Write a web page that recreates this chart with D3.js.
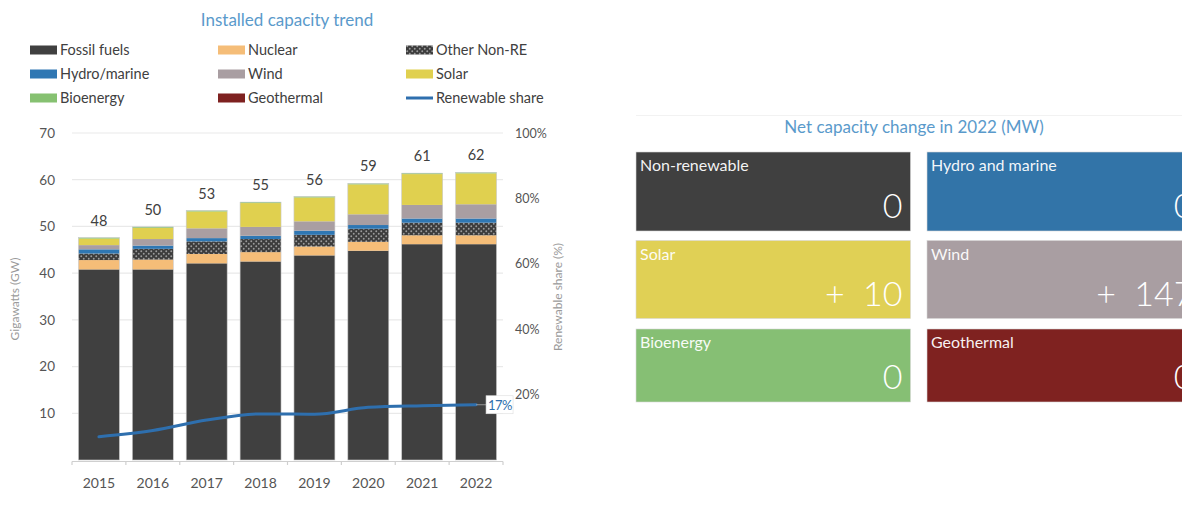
<!DOCTYPE html>
<html>
<head>
<meta charset="utf-8">
<script src="https://cdn.jsdelivr.net/npm/d3@7"></script>
<style>
  html, body { margin: 0; padding: 0; background: #ffffff; }
  svg { display: block; font-family: Lato, "Open Sans", sans-serif; }
</style>
</head>
<body>
<svg id="chart" width="1182" height="506"></svg>
<script>
// ---- Installed capacity by technology (GW) ----
const years = ["2015", "2016", "2017", "2018", "2019", "2020", "2021", "2022"];
const fossilFuels = [40.8, 40.8, 42.1, 42.5, 43.8, 44.8, 46.2, 46.2];
const nuclear     = [2.0, 2.1, 2.0, 2.0, 1.9, 1.9, 1.9, 1.9];
const otherNonRE  = [1.4, 2.3, 2.7, 2.8, 2.5, 2.8, 2.7, 2.7];
const hydroMarine = [0.9, 0.7, 0.7, 0.7, 0.9, 0.8, 0.9, 0.9];
const wind        = [0.9, 1.4, 2.1, 1.9, 2.0, 2.3, 2.9, 3.05];
const solar       = [1.4, 2.4, 3.6, 5.1, 5.1, 6.4, 6.6, 6.61];
const bioenergy   = [0.2, 0.2, 0.2, 0.2, 0.2, 0.2, 0.2, 0.2];
const geothermal  = [0, 0, 0, 0, 0, 0, 0, 0];

// Renewable share of installed capacity (%)
const renewableShare = [7.1, 9.0, 12.2, 14.1, 14.0, 16.1, 16.6, 16.9];

// Axis ticks
const gwTicks = [10, 20, 30, 40, 50, 60, 70];
const shareTicks = [20, 40, 60, 80, 100];

// ---- Net capacity change in 2022 (MW) ----
const tileLabels = ["Non-renewable", "Hydro and marine", "Solar", "Wind", "Bioenergy", "Geothermal"];
const tileValues = [0, 0, 10, 147, 0, 0];

// ---- Styling ----
const seriesKeys = ["Fossil fuels", "Nuclear", "Other Non-RE", "Hydro/marine", "Wind", "Solar", "Bioenergy", "Geothermal"];
const seriesValues = [fossilFuels, nuclear, otherNonRE, hydroMarine, wind, solar, bioenergy, geothermal];
const colors = {
  "Fossil fuels": "#404040",
  "Nuclear": "#f5bd78",
  "Other Non-RE": "url(#dots)",
  "Hydro/marine": "#2f77b3",
  "Wind": "#a99ea2",
  "Solar": "#e0d04f",
  "Bioenergy": "#86c171",
  "Geothermal": "#7e2120"
};
const tileColors = ["#404040", "#3274a8", "#e0d055", "#a99ea2", "#86bf74", "#7f2220"];
const lineColor = "#2e6fae";
const titleColor = "#5a9acb";

const svg = d3.select("#chart");

// hatched fill for "Other Non-RE"
const defs = svg.append("defs");
const pat = defs.append("pattern")
  .attr("id", "dots").attr("patternUnits", "userSpaceOnUse")
  .attr("width", 5).attr("height", 5);
pat.append("rect").attr("width", 5).attr("height", 5).attr("fill", "#3c3c3c");
pat.append("circle").attr("cx", 1.25).attr("cy", 1.25).attr("r", 0.95).attr("fill", "#9b9b9b");
pat.append("circle").attr("cx", 3.75).attr("cy", 3.75).attr("r", 0.95).attr("fill", "#9b9b9b");

// ---- Left chart ----
const rows = years.map((yr, i) => {
  const o = { year: yr };
  seriesKeys.forEach((k, j) => { o[k] = seriesValues[j][i]; });
  return o;
});
const stacked = d3.stack().keys(seriesKeys)(rows);
const totals = rows.map(r => d3.sum(seriesKeys, k => r[k]));

const x = d3.scaleBand().domain(years).range([72, 503]).paddingInner(0.24).paddingOuter(0.12);
const y = d3.scaleLinear().domain([0, 70]).range([460, 133]);
const y2 = d3.scaleLinear().domain([0, 100]).range([460, 133]);

svg.append("text")
  .attr("x", 287).attr("y", 26)
  .attr("text-anchor", "middle")
  .attr("font-size", 17).attr("fill", titleColor)
  .text("Installed capacity trend");

// Legend
const legendItems = ["Fossil fuels", "Nuclear", "Other Non-RE", "Hydro/marine", "Wind", "Solar", "Bioenergy", "Geothermal", "Renewable share"];
const legend = svg.append("g");
legendItems.forEach((name, i) => {
  const col = i % 3, row = Math.floor(i / 3);
  const lx = [30, 218, 406][col], ly = 50 + row * 24;
  const g = legend.append("g").attr("transform", `translate(${lx},${ly})`);
  if (name === "Renewable share") {
    g.append("line").attr("x1", 0).attr("x2", 27).attr("y1", 0).attr("y2", 0)
      .attr("stroke", lineColor).attr("stroke-width", 3);
  } else {
    g.append("rect").attr("x", 0).attr("y", -4.5).attr("width", 27).attr("height", 9)
      .attr("fill", colors[name]);
  }
  g.append("text").attr("x", 30).attr("y", 5).attr("font-size", 14.5).attr("fill", "#404040").text(name);
});

// Gridlines
svg.append("g").selectAll("line").data(gwTicks).join("line")
  .attr("x1", 72).attr("x2", 503)
  .attr("y1", d => y(d)).attr("y2", d => y(d))
  .attr("stroke", "#e9e9e9").attr("stroke-width", 1.2);

// Left axis
const leftAxis = svg.append("g").attr("transform", "translate(57,0)")
  .call(d3.axisLeft(y).tickValues(gwTicks).tickSize(0).tickPadding(2));
leftAxis.select(".domain").remove();
leftAxis.selectAll("text").attr("font-size", 13.5).attr("fill", "#555").attr("font-family", "Lato, sans-serif");

svg.append("text")
  .attr("transform", "translate(19,299) rotate(-90)")
  .attr("text-anchor", "middle").attr("font-size", 12).attr("fill", "#9a9a9a")
  .text("Gigawatts (GW)");

// Right axis
const rightAxis = svg.append("g").attr("transform", "translate(513,0)")
  .call(d3.axisRight(y2).tickValues(shareTicks).tickSize(0).tickPadding(2).tickFormat(d => d + "%"));
rightAxis.select(".domain").remove();
rightAxis.selectAll("text").attr("font-size", 12.5).attr("fill", "#555").attr("font-family", "Lato, sans-serif");

svg.append("text")
  .attr("transform", "translate(562,297) rotate(-90)")
  .attr("text-anchor", "middle").attr("font-size", 12).attr("fill", "#9a9a9a")
  .text("Renewable share (%)");

// Bars
svg.append("g").selectAll("g").data(stacked).join("g")
  .attr("fill", d => colors[d.key])
  .selectAll("rect").data(d => d).join("rect")
  .attr("x", d => x(d.data.year))
  .attr("width", x.bandwidth())
  .attr("y", d => y(d[1]))
  .attr("height", d => Math.max(0, y(d[0]) - y(d[1])));

// Bar outline
svg.append("g").selectAll("rect").data(rows).join("rect")
  .attr("x", d => x(d.year)).attr("width", x.bandwidth())
  .attr("y", (d, i) => y(totals[i])).attr("height", (d, i) => y(0) - y(totals[i]))
  .attr("fill", "none").attr("stroke", "#c8c8c8").attr("stroke-width", 0.6);

// Total labels
svg.append("g").selectAll("text").data(rows).join("text")
  .attr("x", d => x(d.year) + x.bandwidth() / 2)
  .attr("y", (d, i) => y(totals[i]) - 12)
  .attr("text-anchor", "middle").attr("font-size", 14.5).attr("fill", "#404040")
  .text((d, i) => d3.format(".0f")(totals[i]));

// Bottom axis with ticks at category boundaries
const bottom = svg.append("g");
bottom.append("line").attr("x1", 72).attr("x2", 503).attr("y1", 461.5).attr("y2", 461.5)
  .attr("stroke", "#cfcfcf").attr("stroke-width", 1.2);
const boundaries = d3.range(years.length + 1).map(i => x.range()[0] + i * x.step());
bottom.selectAll("line.tick").data(boundaries).join("line").attr("class", "tick")
  .attr("x1", d => d).attr("x2", d => d).attr("y1", 461.5).attr("y2", 465)
  .attr("stroke", "#cfcfcf").attr("stroke-width", 1.2);
bottom.selectAll("text").data(years).join("text")
  .attr("x", d => x(d) + x.bandwidth() / 2).attr("y", 488)
  .attr("text-anchor", "middle").attr("font-size", 14).attr("fill", "#555")
  .text(d => d);

// Renewable share line
const linePts = years.map((yr, i) => [x(yr) + x.bandwidth() / 2, y2(renewableShare[i])]);
svg.append("path")
  .attr("d", d3.line().curve(d3.curveMonotoneX)(linePts))
  .attr("fill", "none").attr("stroke", lineColor).attr("stroke-width", 3)
  .attr("stroke-linecap", "round");

const last = linePts[linePts.length - 1];
svg.append("line").attr("x1", last[0]).attr("x2", last[0] + 10)
  .attr("y1", last[1]).attr("y2", last[1]).attr("stroke", "#aaa").attr("stroke-width", 0.8);
svg.append("rect").attr("x", last[0] + 10).attr("y", last[1] - 9).attr("width", 27).attr("height", 18)
  .attr("fill", "#ffffff").attr("stroke", "#dddddd").attr("stroke-width", 0.6);
svg.append("text").attr("x", last[0] + 12).attr("y", last[1] + 5)
  .attr("font-size", 13).attr("fill", lineColor).attr("letter-spacing", -0.6)
  .text(d3.format(".0f")(renewableShare[renewableShare.length - 1]) + "%");

// ---- Right panel: tiles ----
svg.append("line").attr("x1", 636).attr("x2", 1182).attr("y1", 115.5).attr("y2", 115.5)
  .attr("stroke", "#f2f2f2").attr("stroke-width", 1);
svg.append("text")
  .attr("x", 914).attr("y", 133)
  .attr("text-anchor", "middle").attr("font-size", 17).attr("fill", titleColor)
  .text("Net capacity change in 2022 (MW)");

const tileW = 274.5, tileH = [79, 78, 73];
const tileX = [636, 927];
const tileY = [152, 240.5, 329];
const tiles = svg.append("g").selectAll("g").data(tileLabels).join("g")
  .attr("transform", (d, i) => `translate(${tileX[i % 2]},${tileY[Math.floor(i / 2)]})`);
tiles.append("rect")
  .attr("width", tileW).attr("height", (d, i) => tileH[Math.floor(i / 2)])
  .attr("fill", (d, i) => tileColors[i])
  .attr("stroke", "#d8d8d8").attr("stroke-width", 0.6);
tiles.append("text")
  .attr("x", 4).attr("y", 19)
  .attr("font-size", 16).attr("fill", "#ffffff").attr("fill-opacity", 0.95)
  .text(d => d);
tiles.append("text")
  .attr("x", tileW - 8).attr("y", (d, i) => tileH[Math.floor(i / 2)] - 13)
  .attr("text-anchor", "end").attr("font-size", 34).attr("font-weight", 300)
  .attr("fill", "#ffffff").style("white-space", "pre")
  .text((d, i) => tileValues[i] > 0 ? "+  " + tileValues[i] : String(tileValues[i]));
</script>
</body>
</html>
